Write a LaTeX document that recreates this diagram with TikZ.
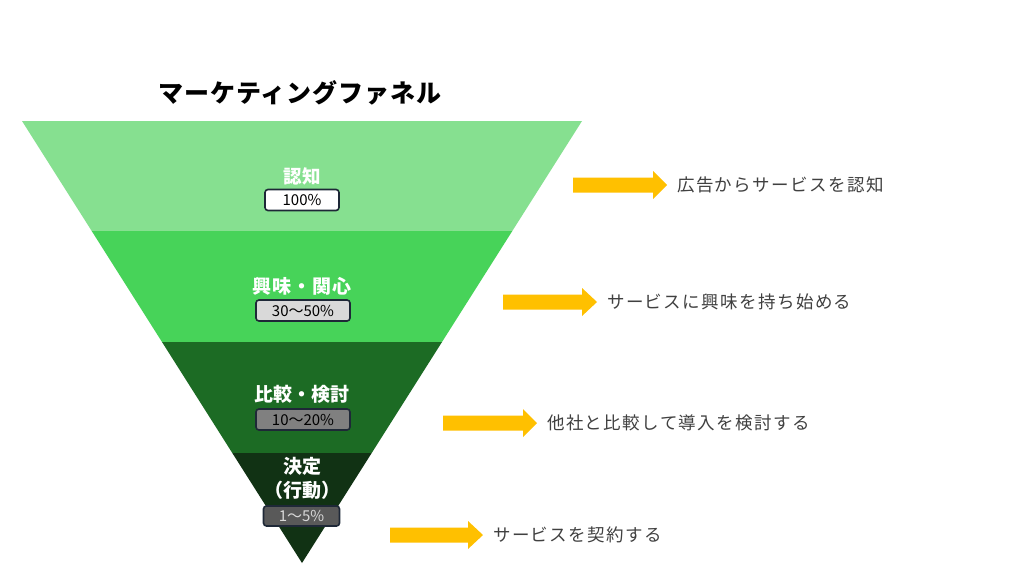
\documentclass[tikz,border=0pt]{standalone}
\usepackage{fontspec}
\setmainfont{Noto Sans CJK JP}
\usetikzlibrary{calc}
\definecolor{bandA}{RGB}{134,224,144}
\definecolor{bandB}{RGB}{71,211,89}
\definecolor{bandC}{RGB}{28,107,36}
\definecolor{bandD}{RGB}{17,50,20}
\definecolor{arrowY}{RGB}{255,192,0}
\definecolor{boxline}{RGB}{30,40,55}
\definecolor{desc}{RGB}{64,64,64}
\newcommand{\yarrowshape}[4]{\fill[arrowY] (#1,#4-7.5) -- (#2,#4-7.5) -- (#2,#4-14) -- (#3,#4) -- (#2,#4+14) -- (#2,#4+7.5) -- (#1,#4+7.5) -- cycle;}
\tikzset{
  stage/.style={text=white, font=\fontsize{19}{21}\selectfont\bfseries, inner sep=0pt, align=center},
  pct/.style={draw=boxline, line width=1.6pt, rounded corners=3pt, inner sep=0pt, font=\fontsize{15}{17}\selectfont},
  descr/.style={text=desc, anchor=west, inner sep=0pt, font=\fontsize{17.5}{19}\selectfont\addfontfeature{LetterSpace=8}},
}
\begin{document}
\begin{tikzpicture}[x=1pt,y=-1pt]
\useasboundingbox (0,0) rectangle (1024,576);
\fill[white] (0,0) rectangle (1024,576);
% funnel bands
\fill[bandA] (22,121) -- (582,121) -- (512.3,231) -- (91.7,231) -- cycle;
\fill[bandB] (91.7,231) -- (512.3,231) -- (442,342) -- (162,342) -- cycle;
\fill[bandC] (162,342) -- (442,342) -- (371.7,453) -- (232.3,453) -- cycle;
\fill[bandD] (232.3,453) -- (371.7,453) -- (302,563) -- cycle;
% title
\node[font=\fontsize{25}{27}\selectfont\bfseries\addfontfeature{LetterSpace=4}, inner sep=0pt] (title) at (300,93) {マーケティングファネル};
% stage labels
\node[stage, font=\fontsize{18.5}{21}\selectfont\bfseries] (s1) at (302,176) {認知};
\node[pct, fill=white, minimum width=74pt, minimum height=21pt] (p1) at (302,200) {100\%};
\node[stage, font=\fontsize{19}{21}\selectfont\bfseries\addfontfeature{LetterSpace=6}] (s2) at (302,286) {興味・関心};
\node[pct, fill=black!15, minimum width=94pt, minimum height=21pt] (p2) at (303,310.5) {30〜50\%};
\node[stage] (s3) at (302,394) {比較・検討};
\node[pct, fill=black!50, minimum width=94pt, minimum height=21pt] (p3) at (303,419.5) {10〜20\%};
\node[stage, font=\fontsize{19}{24}\selectfont\bfseries] (s4) at (302,478) {決定\\（行動）};
\node[pct, fill=black!65, text=white!85!black, minimum width=76pt, minimum height=20pt] (p4) at (301.5,516) {1〜5\%};
% arrows
\yarrowshape{573}{653}{667}{185}
\yarrowshape{503}{582}{597}{302}
\yarrowshape{443}{523}{537}{423}
\yarrowshape{390}{468}{483}{535}
% descriptions
\node[descr] (d1) at (677,185) {広告からサービスを認知};
\node[descr] (d2) at (607,302) {サービスに興味を持ち始める};
\node[descr] (d3) at (547,423) {他社と比較して導入を検討する};
\node[descr] (d4) at (493,535) {サービスを契約する};
\end{tikzpicture}
\end{document}
